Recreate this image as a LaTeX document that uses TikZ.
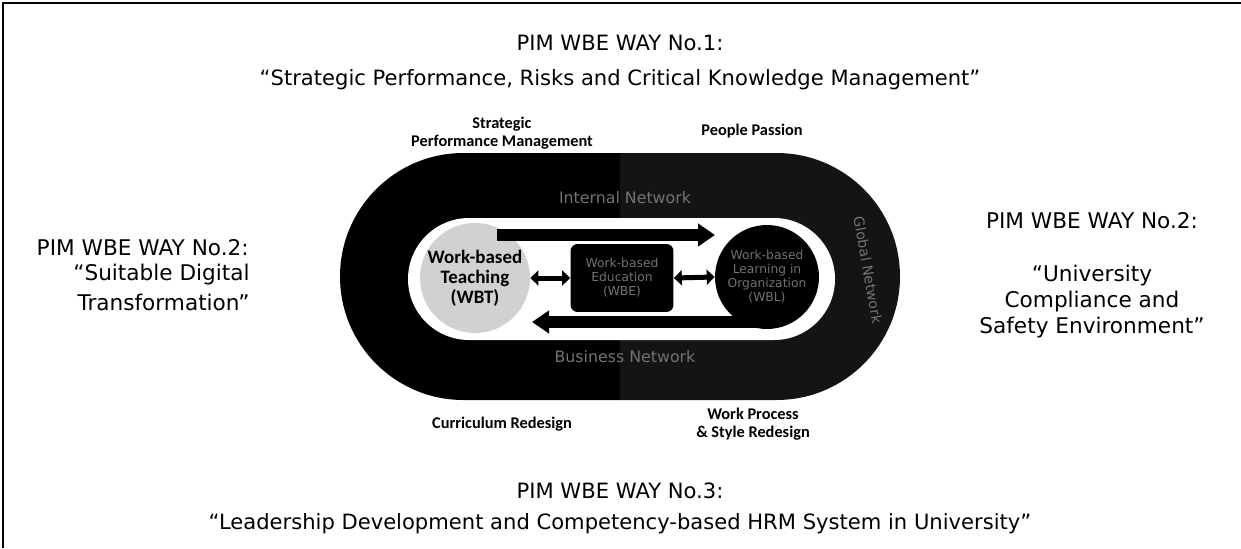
\documentclass[tikz,border=0pt]{standalone}
\usepackage{fontspec}
\setmainfont{DejaVu Sans}
\newfontfamily\labfont{Carlito}
\usetikzlibrary{arrows.meta}
\begin{document}
\begin{tikzpicture}[x=0.02cm,y=-0.02cm,
  big/.style={font=\fontsize{12}{14}\selectfont, inner sep=0pt},
  side/.style={font=\fontsize{12.3}{14}\selectfont, inner sep=0pt},
  lab/.style={font=\labfont\bfseries\fontsize{9.3}{10.5}\selectfont, align=center, inner sep=0pt},
  band/.style={font=\fontsize{9}{10}\selectfont, text=black!55, inner sep=0pt},
  fatarrow/.style={line width=0.24cm, -{Triangle[length=0.34cm,width=0.44cm]}},
  dblarrow/.style={line width=0.1cm, {Triangle[length=0.16cm,width=0.3cm]}-{Triangle[length=0.16cm,width=0.3cm]}},
  hub/.style={circle, minimum size=2.08cm, inner sep=0pt, align=center},
]
\useasboundingbox (0,0) rectangle (1241,548);
% frame
\draw[line width=0.05cm] (3,548) -- (3,3) -- (1241,3);

% titles
\node[big] (t1a) at (620,43) {PIM WBE WAY No.1:};
\node[big] (t1b) at (620,80) {“Strategic Performance, Risks and Critical Knowledge Management”};
\node[big] (t3a) at (620,491) {PIM WBE WAY No.3:};
\node[big] (t3b) at (620,524) {“Leadership Development and Competency-based HRM System in University”};
\node[side, anchor=east] (l1) at (249,248) {PIM WBE WAY No.2:};
\node[side, anchor=east] (l2) at (250,275) {“Suitable Digital};
\node[side, anchor=east] (l3) at (250,302) {Transformation”};
\node[side] (r1) at (1092,221) {PIM WBE WAY No.2:};
\node[side] (r2) at (1092,276) {“University};
\node[side] (r3) at (1092,302) {Compliance and};
\node[side] (r4) at (1092,328) {Safety Environment”};

% stadium
\begin{scope}
  \clip (0,0) rectangle (620,548);
  \fill[black, rounded corners=2.47cm] (340,153) rectangle (900,400);
\end{scope}
\begin{scope}
  \clip (620,0) rectangle (1241,548);
  \fill[black!92, rounded corners=2.47cm] (340,153) rectangle (900,400);
\end{scope}
\fill[white, rounded corners=1.22cm] (408,218) rectangle (835,340);

% band texts
\node[band] (bt) at (625,198) {Internal Network};
\node[band] (bb) at (625,357) {Business Network};
\node[band, rotate=-80, font=\fontsize{8}{9}\selectfont] (br) at (868,270) {Global Network};

% labels
\node[lab] (sp) at (502,133) {Strategic\\Performance Management};
\node[lab] (pp) at (752,131) {People Passion};
\node[lab] (cr) at (502,424) {Curriculum Redesign};
\node[lab] (wp) at (753,424) {Work Process\\\& Style Redesign};

% hubs
\node[hub, fill=black!18, font=\labfont\bfseries\fontsize{10.8}{11.5}\selectfont] (wbt) at (475,278) {Work-based\\Teaching\\(WBT)};
\node[rectangle, rounded corners=4pt, fill=black, minimum width=2.06cm, minimum height=1.36cm, inner sep=0pt, align=center, text=black!55, font=\fontsize{7}{8}\selectfont] (wbe) at (622,278) {Work-based\\Education\\(WBE)};
\node[hub, fill=black, text=black!55, font=\fontsize{7}{8}\selectfont] (wbl) at (767,277) {Work-based\\Learning in\\Organization\\(WBL)};

% arrows
\coordinate (ta) at (497,235);
\coordinate (tb) at (715,235);
\draw[fatarrow] (ta) -- (tb);
\coordinate (ba) at (760,322);
\coordinate (bb2) at (532,322);
\draw[fatarrow] (ba) -- (bb2);
\draw[dblarrow] (wbt.east) -- (wbe.west);
\draw[dblarrow] (wbe.east) -- (wbl.west);
\end{tikzpicture}
\end{document}
